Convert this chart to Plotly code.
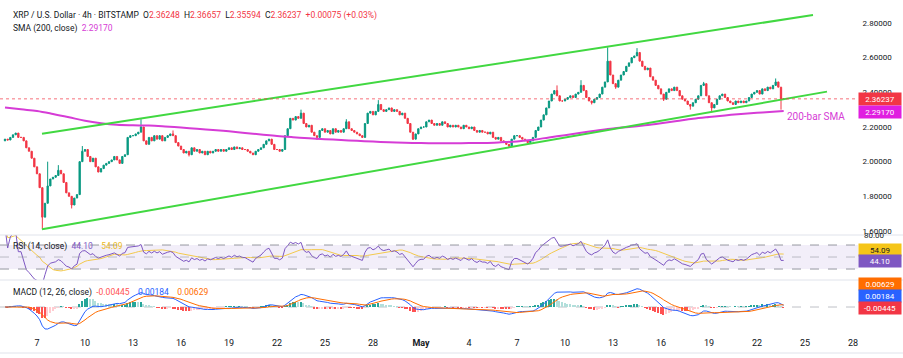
import pandas as pd
import numpy as np
import plotly.graph_objects as go

# ---------------- data ----------------
symbol_title = "XRP / U.S. Dollar · 4h · BITSTAMP"
bar_start = "2025-04-05 00:00"
first_open = 2.12

closes = [
    2.13, 2.125, 2.14, 2.155, 2.165, 2.14,      # Apr 5
    2.14, 2.12, 2.08, 2.06, 2.02, 1.97,         # Apr 6
    1.93, 1.85, 1.68, 1.76, 1.86, 1.90,         # Apr 7
    1.91, 1.92, 1.95, 1.93, 1.88, 1.82,         # Apr 8
    1.80, 1.75, 1.79, 1.81, 2.00, 2.06,         # Apr 9
    2.07, 2.03, 2.00, 2.02, 1.97, 1.94,         # Apr 10
    1.96, 1.98, 1.99, 2.00, 2.01, 2.03,         # Apr 11
    2.01, 1.99, 2.03, 2.04, 2.14, 2.15,         # Apr 12
    2.15, 2.16, 2.17, 2.20, 2.12, 2.10,         # Apr 13
    2.14, 2.12, 2.15, 2.13, 2.15, 2.12,         # Apr 14
    2.14, 2.15, 2.16, 2.15, 2.11, 2.09,         # Apr 15
    2.07, 2.05, 2.06, 2.04, 2.08, 2.06,         # Apr 16
    2.07, 2.05, 2.06, 2.04, 2.06, 2.05,         # Apr 17
    2.06, 2.07, 2.06, 2.07, 2.06, 2.07,         # Apr 18
    2.08, 2.07, 2.085, 2.075, 2.08, 2.07,       # Apr 19
    2.07, 2.06, 2.05, 2.04, 2.06, 2.07,         # Apr 20
    2.08, 2.10, 2.12, 2.13, 2.10, 2.07,         # Apr 21
    2.07, 2.06, 2.07, 2.15, 2.19, 2.25,         # Apr 22
    2.24, 2.26, 2.25, 2.28, 2.22, 2.20,         # Apr 23
    2.21, 2.17, 2.15, 2.14, 2.18, 2.19,         # Apr 24
    2.17, 2.18, 2.16, 2.19, 2.17, 2.18,         # Apr 25
    2.17, 2.19, 2.23, 2.19, 2.18, 2.17,         # Apr 26
    2.16, 2.15, 2.14, 2.22, 2.28, 2.29,         # Apr 27
    2.27, 2.29, 2.33, 2.30, 2.29, 2.30,         # Apr 28
    2.31, 2.29, 2.30, 2.29, 2.27, 2.28,         # Apr 29
    2.25, 2.22, 2.17, 2.13, 2.16, 2.19,         # Apr 30
    2.20, 2.20, 2.23, 2.24, 2.22, 2.21,         # May 1
    2.22, 2.21, 2.23, 2.22, 2.20, 2.21,         # May 2
    2.20, 2.21, 2.20, 2.19, 2.21, 2.20,         # May 3
    2.19, 2.20, 2.18, 2.17, 2.18, 2.17,         # May 4
    2.17, 2.16, 2.17, 2.14, 2.13, 2.14,         # May 5
    2.12, 2.11, 2.10, 2.09, 2.13, 2.15,         # May 6
    2.15, 2.14, 2.13, 2.12, 2.11, 2.12,         # May 7
    2.14, 2.18, 2.20, 2.24, 2.27, 2.31,         # May 8
    2.35, 2.39, 2.41, 2.38, 2.35, 2.35,         # May 9
    2.36, 2.37, 2.38, 2.37, 2.39, 2.40,         # May 10
    2.44, 2.41, 2.37, 2.35, 2.34, 2.36,         # May 11
    2.37, 2.39, 2.43, 2.46, 2.58, 2.50,         # May 12
    2.45, 2.43, 2.47, 2.50, 2.52, 2.55,         # May 13
    2.57, 2.60, 2.61, 2.63, 2.58, 2.55,         # May 14
    2.53, 2.54, 2.49, 2.47, 2.44, 2.42,         # May 15
    2.39, 2.36, 2.40, 2.42, 2.41, 2.43,         # May 16
    2.41, 2.38, 2.36, 2.35, 2.33, 2.32,         # May 17
    2.34, 2.36, 2.38, 2.44, 2.45, 2.38,         # May 18
    2.34, 2.31, 2.33, 2.36, 2.38, 2.39,         # May 19
    2.37, 2.35, 2.34, 2.33, 2.35, 2.34,         # May 20
    2.35, 2.34, 2.35, 2.37, 2.39, 2.40,         # May 21
    2.41, 2.39, 2.42, 2.41, 2.43, 2.42,         # May 22
    2.44, 2.46, 2.43, 2.36248, 2.36237,         # May 23
]

high_spikes = [
    ("2025-04-07 16:00", 2.00), ("2025-04-08 08:00", 1.98), ("2025-04-09 20:00", 2.09),
    ("2025-04-13 12:00", 2.245), ("2025-04-15 12:00", 2.18), ("2025-04-23 12:00", 2.30),
    ("2025-04-26 08:00", 2.245), ("2025-04-28 08:00", 2.355), ("2025-05-09 12:00", 2.44),
    ("2025-05-11 00:00", 2.47), ("2025-05-12 16:00", 2.66), ("2025-05-14 12:00", 2.655),
    ("2025-05-18 16:00", 2.46), ("2025-05-23 04:00", 2.48), ("2025-05-23 16:00", 2.36657),
]
low_spikes = [
    ("2025-04-07 08:00", 1.61), ("2025-04-09 04:00", 1.73), ("2025-04-16 12:00", 2.03),
    ("2025-04-24 12:00", 2.125), ("2025-04-30 12:00", 2.125), ("2025-05-06 12:00", 2.085),
    ("2025-05-11 16:00", 2.33), ("2025-05-13 04:00", 2.42), ("2025-05-16 04:00", 2.35),
    ("2025-05-17 20:00", 2.30), ("2025-05-19 04:00", 2.285), ("2025-05-23 12:00", 2.30),
    ("2025-05-23 16:00", 2.35594),
]

last_open, last_high, last_low, last_close = 2.36248, 2.36657, 2.35594, 2.36237
last_change, last_change_pct = 0.00075, 0.03

sma_times = list(pd.date_range("2025-04-05", "2025-05-23", freq="D")) + [pd.Timestamp("2025-05-23 16:00")]
sma_values = [
    2.313, 2.302, 2.292, 2.275, 2.256, 2.236, 2.222, 2.213, 2.210, 2.208,
    2.203, 2.197, 2.190, 2.183, 2.175, 2.166, 2.157, 2.148, 2.141, 2.135,
    2.130, 2.125, 2.120, 2.116, 2.112, 2.109, 2.107, 2.106, 2.106, 2.107,
    2.108, 2.112, 2.117, 2.126, 2.140, 2.153, 2.167, 2.180, 2.192, 2.200,
    2.210, 2.222, 2.235, 2.248, 2.258, 2.267, 2.275, 2.282, 2.288, 2.2917,
]
sma_last = 2.29170

upper_channel_x = ["2025-04-07 07:30", "2025-05-25 12:00"]
upper_channel_y = [2.161, 2.846]
lower_channel_x = ["2025-04-07 07:30", "2025-05-26 09:00"]
lower_channel_y = [1.610, 2.404]

rsi_value, rsi_ma_value = 44.10, 54.09
macd_hist_value, macd_value, macd_signal_value = -0.00445, 0.00184, 0.00629

tick_dates = ["2025-04-07", "2025-04-10", "2025-04-13", "2025-04-16", "2025-04-19",
              "2025-04-22", "2025-04-25", "2025-04-28", "2025-05-01", "2025-05-04",
              "2025-05-07", "2025-05-10", "2025-05-13", "2025-05-16", "2025-05-19",
              "2025-05-22", "2025-05-25", "2025-05-28"]
tick_text = ["7", "10", "13", "16", "19", "22", "25", "28", "<b>May</b>", "4",
             "7", "10", "13", "16", "19", "22", "25", "28"]
price_ticks = [1.6, 1.8, 2.0, 2.2, 2.4, 2.6, 2.8]

# ---------------- derived series ----------------
times = pd.date_range(bar_start, periods=len(closes), freq="4h")
close_s = pd.Series(closes, index=times, dtype=float)
opens = [first_open] + closes[:-1]
open_s = pd.Series(opens, index=times, dtype=float)
high_s = np.maximum(open_s, close_s)
low_s = np.minimum(open_s, close_s)
for t, v in high_spikes:
    high_s[pd.Timestamp(t)] = max(v, high_s[pd.Timestamp(t)])
for t, v in low_spikes:
    low_s[pd.Timestamp(t)] = min(v, low_s[pd.Timestamp(t)])
high_s[pd.Timestamp("2025-05-23 16:00")] = last_high
low_s[pd.Timestamp("2025-05-23 16:00")] = last_low

# RSI(14) Wilder + 14 SMA
delta = close_s.diff()
delta.iloc[0] = closes[0] - first_open
gain = delta.clip(lower=0)
loss = -delta.clip(upper=0)
avg_g = gain.ewm(alpha=1 / 14, adjust=True).mean()
avg_l = loss.ewm(alpha=1 / 14, adjust=True).mean()
rsi = 100 - 100 / (1 + avg_g / avg_l)
rsi_ma = rsi.rolling(14, min_periods=1).mean()

# MACD(12,26,9)
ema12 = close_s.ewm(span=12, adjust=False).mean()
ema26 = close_s.ewm(span=26, adjust=False).mean()
macd = ema12 - ema26
signal = macd.ewm(span=9, adjust=False).mean()
hist = macd - signal
hist_colors = []
prev = 0.0
for h in hist.values:
    if h >= 0:
        hist_colors.append("#26a69a" if h >= prev else "#b2dfdb")
    else:
        hist_colors.append("#ffcdd2" if h >= prev else "#ff5252")
    prev = h

# ---------------- layout geometry ----------------
W, H = 903, 358
PR = 858  # right edge of plotting area (px)
def py(p):  # pixel y -> paper
    return 1 - p / H

x_left = pd.Timestamp("2025-04-07") - pd.Timedelta(hours=2.3125 * 24)
x_right = pd.Timestamp("2025-04-07") + pd.Timedelta(hours=51.3125 * 24)
xdom = [0, PR / W]

GREEN, RED = "#089981", "#f23645"
MAG = "#d63cd6"
CH_GREEN = "#41d841"
FONT = "Roboto"
TXT = "#131722"

fig = go.Figure()
fig.add_trace(go.Candlestick(
    x=times, open=open_s, high=high_s, low=low_s, close=close_s,
    increasing=dict(line=dict(color=GREEN, width=1), fillcolor=GREEN),
    decreasing=dict(line=dict(color=RED, width=1), fillcolor=RED),
    whiskerwidth=0, xaxis="x", yaxis="y", hoverinfo="skip"))
fig.add_trace(go.Scatter(x=sma_times, y=sma_values, mode="lines", line=dict(color=MAG, width=2, shape="spline"),
                         xaxis="x", yaxis="y", hoverinfo="skip"))
fig.add_trace(go.Scatter(x=upper_channel_x, y=upper_channel_y, mode="lines", line=dict(color=CH_GREEN, width=2),
                         xaxis="x", yaxis="y"))
fig.add_trace(go.Scatter(x=lower_channel_x, y=lower_channel_y, mode="lines", line=dict(color=CH_GREEN, width=2),
                         xaxis="x", yaxis="y"))

# RSI pane
fig.add_trace(go.Scatter(x=times, y=rsi_ma, mode="lines", line=dict(color="#f2c94c", width=1), xaxis="x2", yaxis="y2"))
fig.add_trace(go.Scatter(x=times, y=rsi, mode="lines", line=dict(color="#7e57c2", width=1), xaxis="x2", yaxis="y2"))

# MACD pane
fig.add_trace(go.Bar(x=times, y=hist, marker=dict(color=hist_colors, line=dict(width=0)),
                     width=4 * 3600 * 1000 * 0.6, xaxis="x3", yaxis="y3"))
fig.add_trace(go.Scatter(x=times, y=macd, mode="lines", line=dict(color="#2962ff", width=1), xaxis="x3", yaxis="y3"))
fig.add_trace(go.Scatter(x=times, y=signal, mode="lines", line=dict(color="#ff6d00", width=1), xaxis="x3", yaxis="y3"))

k = max(macd.max() / 20.0, -macd.min() / 22.0)
macd_range = [-26 * k, 27 * k]

axis_common = dict(showgrid=False, zeroline=False, showline=False, automargin=False)
fig.update_layout(
    width=W, height=H, margin=dict(l=0, r=0, t=0, b=0),
    paper_bgcolor="white", plot_bgcolor="white", showlegend=False,
    font=dict(family=FONT, size=8.5, color=TXT),
    bargap=0,
    xaxis=dict(domain=xdom, range=[x_left, x_right], anchor="y", showticklabels=False,
               rangeslider=dict(visible=False), **axis_common),
    xaxis2=dict(domain=xdom, range=[x_left, x_right], anchor="y2", showticklabels=False, **axis_common),
    xaxis3=dict(domain=xdom, range=[x_left, x_right], anchor="y3", tickmode="array",
                tickvals=pd.to_datetime(tick_dates), ticktext=tick_text,
                ticks="outside", ticklen=1, tickcolor="rgba(0,0,0,0)",
                tickfont=dict(size=9, color=TXT), **axis_common),
    yaxis=dict(domain=[py(235), 1], range=[1.5769, 2.9327], side="right", anchor="x",
               tickmode="array", tickvals=price_ticks, ticktext=[f"{v:.5f}" for v in price_ticks],
               ticks="outside", ticklen=2, tickcolor="rgba(0,0,0,0)",
               tickfont=dict(size=8, color=TXT), **axis_common),
    yaxis2=dict(domain=[py(280), py(235)], range=[11.7, 86.7], side="right", anchor="x2",
                showticklabels=False, **axis_common),
    yaxis3=dict(domain=[py(333), py(280)], range=macd_range, side="right", anchor="x3",
                showticklabels=False, **axis_common),
)

shapes = []
# RSI band
shapes.append(dict(type="rect", xref="paper", yref="y2", x0=0, x1=PR / W, y0=30, y1=70,
                   fillcolor="rgba(126,87,194,0.10)", line=dict(width=0), layer="below"))
for lvl, col in [(70, "#9598a1"), (30, "#9598a1"), (50, "rgba(149,152,161,0.6)")]:
    shapes.append(dict(type="line", xref="paper", yref="y2", x0=0, x1=PR / W, y0=lvl, y1=lvl,
                       line=dict(color=col, width=1, dash="dash")))
# MACD zero line
shapes.append(dict(type="line", xref="paper", yref="y3", x0=0, x1=PR / W, y0=0, y1=0,
                   line=dict(color="rgba(149,152,161,0.6)", width=1, dash="dash"), layer="below"))
# current price dotted line
shapes.append(dict(type="line", xref="paper", yref="y", x0=0, x1=PR / W, y0=last_close, y1=last_close,
                   line=dict(color="rgba(242,54,69,0.7)", width=1, dash="dot")))
# pane separators
for yy in [235, 280, 353]:
    shapes.append(dict(type="line", xref="paper", yref="paper", x0=0, x1=1, y0=py(yy), y1=py(yy),
                       line=dict(color="#e0e3eb", width=1)))
fig.update_layout(shapes=shapes)

def span(txt, col):
    return f'<span style="color:{col}">{txt}</span>'

sp = "\u00a0"
ann = []
line1 = (symbol_title + sp * 2 + "O" + span(f"{last_open:.5f}", RED) + sp * 2 + "H" + span(f"{last_high:.5f}", RED)
         + sp * 2 + "L" + span(f"{last_low:.5f}", RED) + sp * 2 + "C" + span(f"{last_close:.5f}", RED)
         + sp * 2 + span(f"+{last_change:.5f} (+{last_change_pct:.2f}%)", RED))
ann.append(dict(xref="paper", yref="paper", x=11 / W, y=py(15), xanchor="left", yanchor="middle",
                text=line1, showarrow=False, font=dict(size=8.5, color=TXT)))
ann.append(dict(xref="paper", yref="paper", x=11 / W, y=py(28), xanchor="left", yanchor="middle",
                text="SMA (200, close)" + sp * 2 + span(f"{sma_last:.5f}", MAG), showarrow=False,
                font=dict(size=8.5, color=TXT)))
ann.append(dict(xref="paper", yref="paper", x=11 / W, y=py(246), xanchor="left", yanchor="middle",
                text="RSI (14, close)" + sp * 2 + span(f"{rsi_value:.2f}", "#7e57c2") + sp * 4 + span(f"{rsi_ma_value:.2f}", "#e8b923"),
                showarrow=False, font=dict(size=8.5, color=TXT)))
ann.append(dict(xref="paper", yref="paper", x=11 / W, y=py(292), xanchor="left", yanchor="middle",
                text="MACD (12, 26, close)" + sp * 2 + span(f"{macd_hist_value:.5f}", "#ff5252") + sp * 4
                + span(f"{macd_value:.5f}", "#2962ff") + sp * 4 + span(f"{macd_signal_value:.5f}", "#ff6d00"),
                showarrow=False, font=dict(size=8.5, color=TXT)))
# 200-bar SMA label
ann.append(dict(xref="x", yref="y", x=pd.Timestamp("2025-05-23 18:00"), y=2.258, xanchor="left", yanchor="middle",
                text="200-bar SMA", showarrow=False, font=dict(size=10, color=MAG)))

def box(ypx, txt, bg, fg="white"):
    return dict(xref="paper", yref="paper", x=PR / W, y=py(ypx), xanchor="left", yanchor="middle",
                text=txt, showarrow=False, bgcolor=bg, font=dict(size=8, color=fg),
                width=40, height=10, borderpad=1, align="center")

ann.append(box(98.8, f"{last_close:.5f}", RED))
ann.append(box(111.5, f"{sma_last:.5f}", "#e01ee0"))
ann.append(dict(xref="paper", yref="paper", x=862 / W, y=py(235.5), xanchor="left", yanchor="middle",
                text="80.00", showarrow=False, font=dict(size=8, color=TXT)))
ann.append(box(249.5, f"{rsi_ma_value:.2f}", "#f5c518", TXT))
ann.append(box(260.7, f"{rsi_value:.2f}", "#7e57c2"))
ann.append(box(283.5, f"{macd_signal_value:.5f}", "#ff6d00"))
ann.append(box(296, f"{macd_value:.5f}", "#2962ff"))
ann.append(box(307.5, f"{macd_hist_value:.5f}", "#f23645"))
fig.update_layout(annotations=ann)

fig.write_html("out.html", config={"displayModeBar": False},
               post_script="document.body.style.margin='0px';document.body.style.overflow='hidden';")
